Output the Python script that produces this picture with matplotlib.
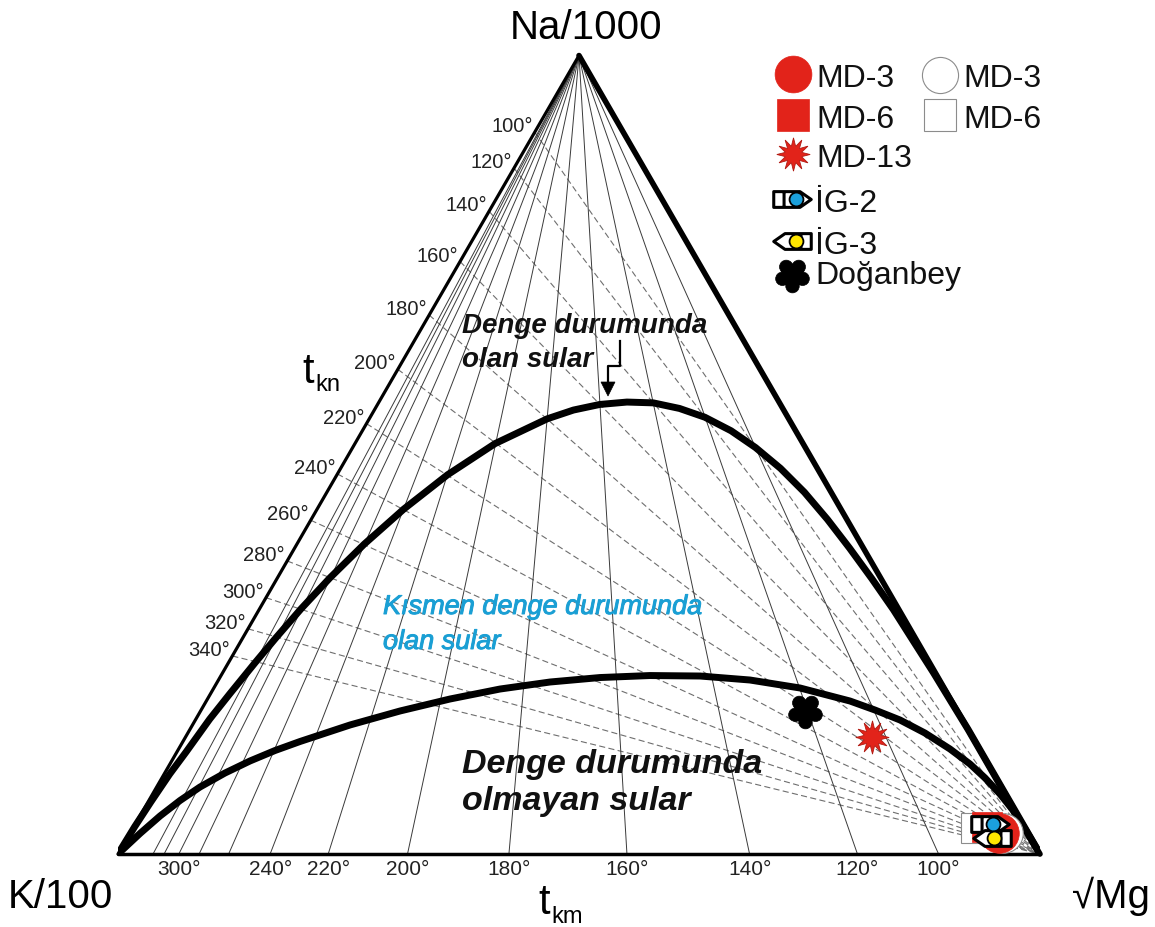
import numpy as np
import matplotlib.pyplot as plt
import matplotlib.patheffects as pe
from matplotlib.path import Path
from matplotlib.patches import Polygon
from matplotlib.transforms import Affine2D

plt.rcParams['font.family'] = ['Liberation Sans', 'DejaVu Sans']

W, H = 1155, 928
H3 = np.sqrt(3) / 2

# ---- values --------------------------------------------------------------
# t_kn (Na-K) isotherms: end on the Na/1000 - K/100 side (Na fraction there)
tkn_temps = [100, 120, 140, 160, 180, 200, 220, 240, 260, 280, 300, 320, 340]
tkn_na = [0.904, 0.859, 0.805, 0.742, 0.675, 0.607, 0.539, 0.476, 0.418,
          0.367, 0.321, 0.282, 0.248]

# t_km (K-Mg) isotherms: foot on the K/100 - sqrt(Mg) side (Mg fraction there)
tkm_temps = [340, 320, 300, 280, 260, 240, 220, 200, 180, 160, 140, 120, 100]
tkm_mg = [0.038, 0.050, 0.066, 0.088, 0.120, 0.165, 0.228, 0.314, 0.424,
          0.552, 0.685, 0.802, 0.890]
tkm_shown = [300, 240, 220, 200, 180, 160, 140, 120, 100]

# full equilibrium line (Na/1000, K/100, sqrt(Mg) in %)
full_na = [0, 3.4, 6.5, 10.0, 12.8, 16.9, 20.1, 24.0, 27.1, 30.7, 34.6, 38.8, 43.2, 47.5,
           51.4, 54.5, 55.6, 56.3, 56.6, 56.5, 55.8, 54.7, 53.0, 50.9, 48.3, 45.3, 41.9,
           38.3, 34.5, 30.6, 26.6, 22.7, 19.0, 15.6, 0]
full_k = [100, 96.5, 93.2, 89.4, 86.2, 81.6, 77.9, 73.1, 69.2, 64.8, 59.7, 53.9, 47.4, 40.5,
          33.4, 26.2, 22.8, 19.6, 16.5, 13.7, 11.2, 9.0, 7.0, 5.4, 4.0, 2.9, 2.1,
          1.5, 1.0, 0.6, 0.4, 0.2, 0.1, 0.0, 0]
full_mg = [0, 0.1, 0.3, 0.6, 1.0, 1.5, 2.1, 2.9, 3.6, 4.5, 5.7, 7.3, 9.4, 12.0,
           15.2, 19.3, 21.6, 24.1, 26.9, 29.8, 33.0, 36.3, 40.0, 43.7, 47.7, 51.8, 56.0,
           60.2, 64.5, 68.8, 73.0, 77.1, 80.9, 84.4, 100]

# partial equilibrium line (Na and Mg in %, K is the rest)
part_na = [0, 2.57, 4.76, 6.70, 8.39, 10.14, 11.65, 12.96, 14.09, 16.16, 17.91, 19.41,
           20.66, 21.54, 22.10, 22.35, 22.29, 21.79, 20.79, 19.16, 18.03, 16.78, 15.15,
           13.15, 11.27, 9.52, 7.51, 5.64, 3.13, 0]
part_mg = [0, 1.10, 2.18, 3.38, 4.70, 6.53, 8.49, 10.55, 12.70, 17.09, 21.63, 26.30,
           31.10, 36.09, 41.23, 46.52, 51.98, 57.65, 63.58, 69.81, 73.09, 76.43, 79.95,
           83.66, 86.77, 89.28, 91.91, 94.15, 96.81, 100]
part_k = [100 - a - b for a, b in zip(part_na, part_mg)]

# samples
sample_names = ['MD-6 (2)', 'MD-3 (2)', 'MD-3', 'MD-6', 'MD-13', 'Doğanbey', 'İG-2', 'İG-3']
sample_na = [3.3, 2.6, 2.6, 3.4, 14.7, 17.9, 3.8, 2.0]
sample_k = [5.3, 2.7, 3.2, 4.1, 10.9, 16.5, 3.5, 4.2]
sample_mg = [91.4, 94.7, 94.2, 92.5, 74.4, 65.6, 92.7, 93.8]


def tern(na, k, mg):
    na, k, mg = (np.asarray(v, float) for v in (na, k, mg))
    s = na + k + mg
    return (mg + na / 2) / s, na * H3 / s


# marker shapes
def ig_path(flip=False):
    v = [(-1, -0.42), (0.4, -0.42), (1, 0), (0.4, 0.42), (-1, 0.42), (-1, -0.42),
         (-0.45, -0.42), (-0.45, 0.42)]
    if flip:
        v = [(-a, b) for a, b in v]
    c = [Path.MOVETO, Path.LINETO, Path.LINETO, Path.LINETO, Path.LINETO, Path.CLOSEPOLY,
         Path.MOVETO, Path.LINETO]
    return Path(v, c)


def flower_path():
    parts = [Path.circle((0, 0), 0.42)]
    for a in np.deg2rad([-90, -18, 54, 126, 198]):
        parts.append(Path.circle((0.6 * np.cos(a), 0.6 * np.sin(a)), 0.38))
    return Path.make_compound_path(*parts)


RED = '#e2231a'
BLUE = '#1ba0dc'
YEL = '#ffe600'
CYAN = '#1a9fd4'

fig = plt.figure(figsize=(W / 100, H / 100), dpi=100)
ax = fig.add_axes([118 / W, (H - 855) / H, 922 / W, 922 * H3 / H])
ax.set_xlim(0, 1)
ax.set_ylim(0, H3)
ax.axis('off')
pix = Affine2D().scale(1 / W, -1 / H).translate(0, 1) + fig.transFigure

# isotherms
for f in tkn_na:
    x, y = tern(f, 1 - f, 0)
    ax.plot([x, 1], [y, 0], color='#6e6e6e', lw=0.8, ls=(0, (5.5, 3)), zorder=1)
for f in tkm_mg:
    x, y = tern(0, 1 - f, f)
    ax.plot([0.5, x], [H3, y], color='#3a3a3a', lw=0.7, zorder=1)

for t, f in zip(tkn_temps, tkn_na):
    ax.annotate(f'{t}°', tern(f, 1 - f, 0), xytext=(-1.5, 0.7), textcoords='offset points',
                ha='right', va='baseline', fontsize=14.5, color='#222222')
for t, f in zip(tkm_temps, tkm_mg):
    if t in tkm_shown:
        ax.annotate(f'{t}°', tern(0, 1 - f, f), xytext=(0, -14.4), textcoords='offset points',
                    ha='center', va='baseline', fontsize=15, color='#222222')

# equilibrium lines
ax.plot(*tern(full_na, full_k, full_mg), color='k', lw=5, zorder=3,
        solid_capstyle='round', solid_joinstyle='round')
ax.plot(*tern(part_na, part_k, part_mg), color='k', lw=5, zorder=3,
        solid_capstyle='round', solid_joinstyle='round')

# triangle
ax.plot([0, 0.5], [0, H3], color='k', lw=2.3, clip_on=False, zorder=4, solid_capstyle='round')
ax.plot([0, 1], [0, 0], color='k', lw=2.5, clip_on=False, zorder=4, solid_capstyle='round')
ax.plot([0.5, 1], [H3, 0], color='k', lw=4, clip_on=False, zorder=4, solid_capstyle='round')

# samples
style = {
    'MD-6 (2)': dict(marker='s', ms=21.5, mfc='white', mec='#8c8c8c', mew=0.8),
    'MD-3 (2)': dict(marker='o', ms=28.5, mfc='white', mec='#8c8c8c', mew=0.8),
    'MD-3': dict(marker='o', ms=28.5, mfc=RED, mec=RED, mew=0.5),
    'MD-6': dict(marker='s', ms=21.5, mfc=RED, mec=RED, mew=0.5),
    'MD-13': dict(marker=(12, 1, 0), ms=24, mfc=RED, mec='#b01a12', mew=0.6),
    'Doğanbey': dict(marker=flower_path(), ms=25, mfc='k', mec='k', mew=0.5),
    'İG-2': dict(marker=ig_path(), ms=27, mfc='white', mec='k', mew=2.2),
    'İG-3': dict(marker=ig_path(True), ms=27, mfc='white', mec='k', mew=2.2),
}
for name, na, k, mg in zip(sample_names, sample_na, sample_k, sample_mg):
    x, y = tern(na, k, mg)
    ax.plot([x], [y], ls='none', zorder=5, **style[name])
    if name == 'İG-2':
        ax.plot([x + 3 / 922], [y], 'o', ms=10, mfc=BLUE, mec='k', mew=1.3, zorder=6)
    if name == 'İG-3':
        ax.plot([x + 2 / 922], [y], 'o', ms=10, mfc=YEL, mec='k', mew=1.3, zorder=6)

# legend (laid out in pixels)
leg = [
    (793, 75, dict(style['MD-3'], ms=26.5), 'MD-3', 87, None),
    (940, 76, dict(marker='o', ms=26, mfc='white', mec='#8c8c8c', mew=0.8), 'MD-3', 87, None),
    (793, 116, dict(style['MD-6'], ms=23), 'MD-6', 128, None),
    (940, 116, dict(marker='s', ms=23, mfc='white', mec='#8c8c8c', mew=0.8), 'MD-6', 128, None),
    (793, 155, style['MD-13'], 'MD-13', 167, None),
    (792, 200, style['İG-2'], 'İG-2', 212, BLUE),
    (792, 242, style['İG-3'], 'İG-3', 254, YEL),
    (792, 276, style['Doğanbey'], 'Doğanbey', 284, None),
]
for px, py, st, lab, base, dot in leg:
    ax.plot([px], [py], ls='none', transform=pix, clip_on=False, zorder=6, **st)
    if dot is not None:
        ax.plot([px + 4], [py], 'o', ms=10, mfc=dot, mec='k', mew=1.3,
                transform=pix, clip_on=False, zorder=7)
    fig.text(px + 23, base, lab, transform=pix, fontsize=23, va='baseline', color='#111111')

# corner and axis labels
fig.text(586, 39, 'Na/1000', transform=pix, fontsize=29, ha='center', va='baseline')
fig.text(8, 908, 'K/100', transform=pix, fontsize=29, ha='left', va='baseline')
fig.text(1150, 908, '√Mg', transform=pix, fontsize=29, ha='right', va='baseline')
fig.text(302, 383, 't', transform=pix, fontsize=30, va='baseline')
fig.text(315, 391, 'kn', transform=pix, fontsize=17, va='baseline')
fig.text(538, 914, 't', transform=pix, fontsize=30, va='baseline')
fig.text(551, 923, 'km', transform=pix, fontsize=17, va='baseline')

# field names
bi = dict(transform=pix, fontweight='bold', style='italic', va='baseline', color='#111111')
fig.text(462, 333, 'Denge durumunda', fontsize=20, **bi)
fig.text(462, 367, 'olan sular', fontsize=20, **bi)
fig.text(462, 773, 'Denge durumunda', fontsize=24.5, **bi)
fig.text(462, 810, 'olmayan sular', fontsize=24.5, **bi)
semi = [pe.withStroke(linewidth=0.7, foreground=CYAN)]
fig.text(383, 615, 'Kısmen denge durumunda', transform=pix, fontsize=19.5, style='italic',
         va='baseline', color=CYAN, path_effects=semi)
fig.text(383, 650, 'olan sular', transform=pix, fontsize=19.5, style='italic',
         va='baseline', color=CYAN, path_effects=semi)

# bent arrow to the full equilibrium line
ax.plot([620, 620, 608, 608], [342, 367, 367, 384], color='k', lw=1.6,
        transform=pix, clip_on=False, zorder=6)
ax.add_patch(Polygon([(601, 383), (615, 383), (608, 397)], closed=True, fc='k', ec='k',
                     lw=0.5, transform=pix, clip_on=False, zorder=6))

fig.savefig('out.png', dpi=100)
